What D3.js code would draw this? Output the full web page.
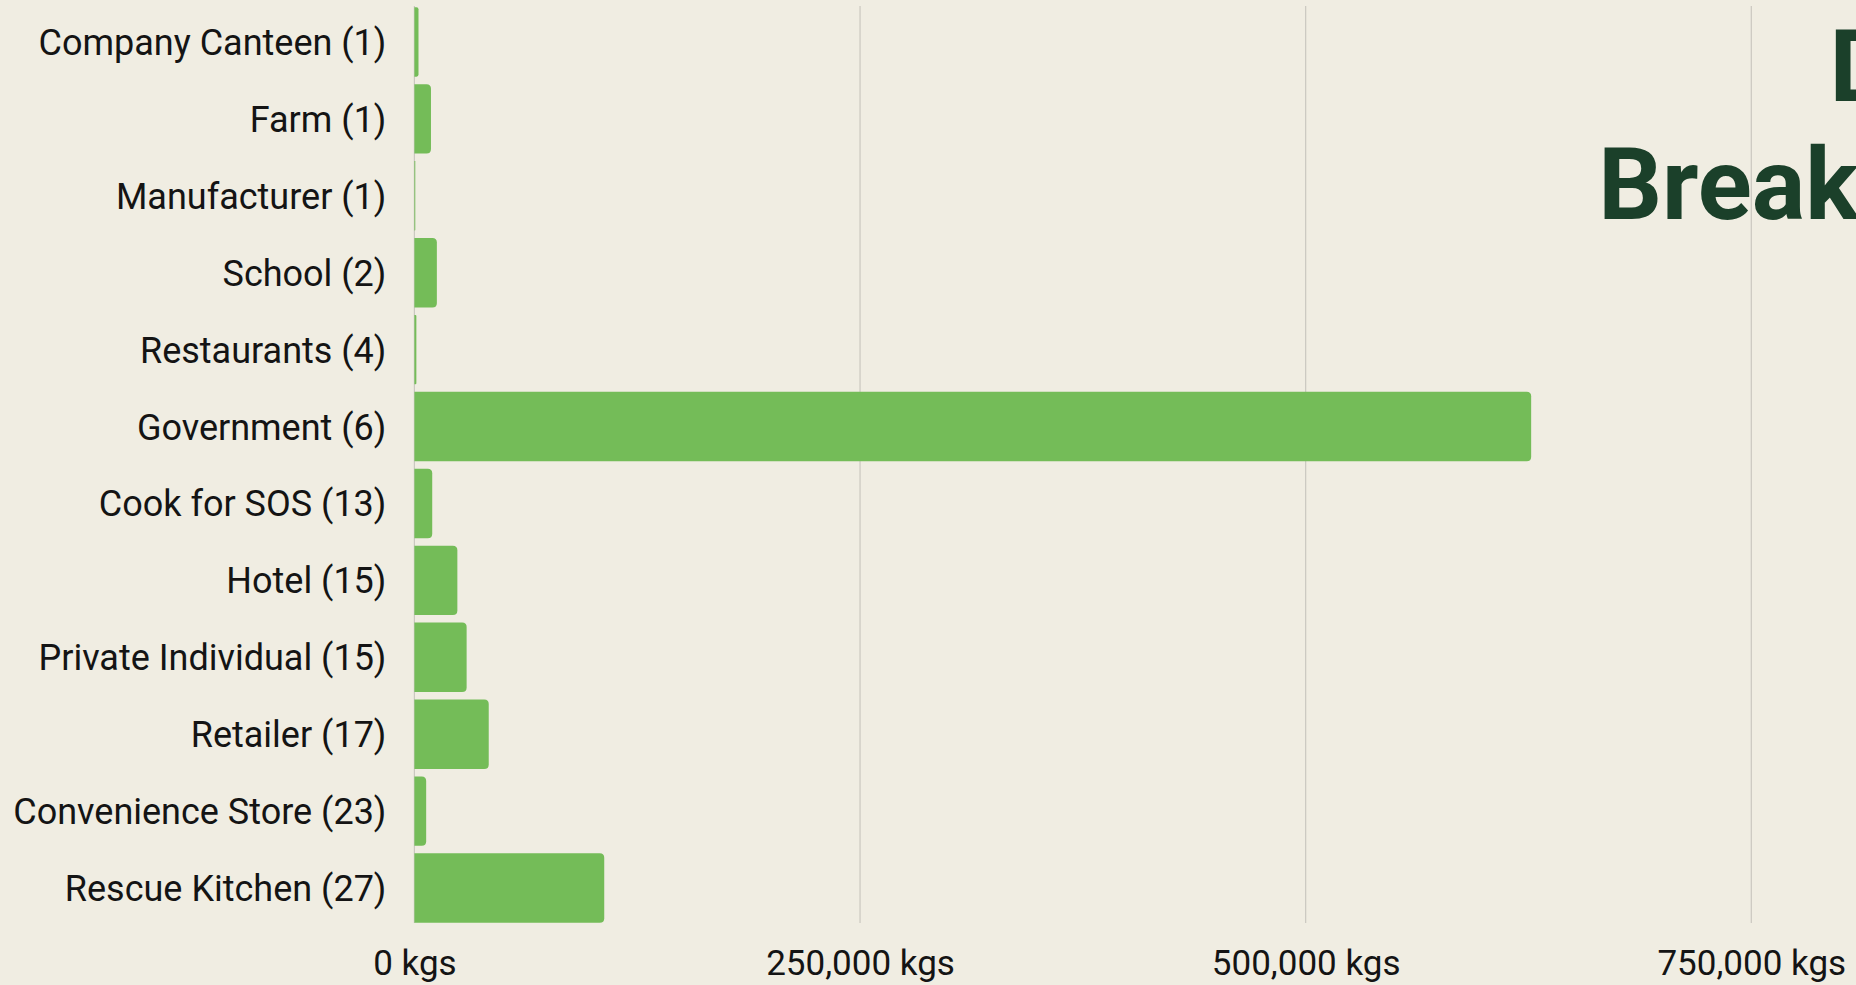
<!DOCTYPE html>
<html>
<head>
<meta charset="utf-8">
<script src="https://cdn.jsdelivr.net/npm/d3@7"></script>
<style>
  html, body { margin: 0; padding: 0; background: #f0ede2; overflow: hidden; }
  svg { display: block; }
</style>
</head>
<body>
<svg id="chart" width="1856" height="985"></svg>
<script>
// ---- Data ----
const donorTypes = ["Company Canteen", "Farm", "Manufacturer", "School", "Restaurants", "Government",
  "Cook for SOS", "Hotel", "Private Individual", "Retailer", "Convenience Store", "Rescue Kitchen"];
const donorCounts = [1, 1, 1, 2, 4, 6, 13, 15, 15, 17, 23, 27];
const kgsDonated = [2300, 9300, 500, 12600, 1100, 626500, 10000, 24100, 29300, 41700, 6600, 106500];
const tickValues = [0, 250000, 500000, 750000];
const titleLines = ["Donor", "Breakdown"];

const labels = donorTypes.map((d, i) => `${d} (${donorCounts[i]})`);
const data = labels.map((l, i) => ({ label: l, value: kgsDonated[i] }));

// ---- Layout ----
const W = 1856, H = 985;
const svg = d3.select("#chart");
svg.append("rect").attr("width", W).attr("height", H).attr("fill", "#f0ede2");

const x = d3.scaleLinear().domain([0, 750000]).range([414.4, 1751.3]);
const y = d3.scaleBand().domain(labels).range([3.5, 926.5]).paddingInner(0.098).paddingOuter(0.049);

const gridTop = 6, gridBottom = 923;
const font = "Roboto, 'Noto Sans', sans-serif";

// gridlines
svg.append("g").selectAll("line").data(tickValues).join("line")
  .attr("x1", d => x(d)).attr("x2", d => x(d))
  .attr("y1", gridTop).attr("y2", gridBottom)
  .attr("stroke", "#cac8c0").attr("stroke-width", 1.2);

// title (right-aligned, runs off the right edge as in the reference)
const titleX = 2100;
const title = svg.append("text")
  .attr("x", titleX).attr("y", 101)
  .attr("text-anchor", "end")
  .attr("font-family", font).attr("font-weight", 700).attr("font-size", 100)
  .attr("fill", "#1b402a");
title.selectAll("tspan").data(titleLines).join("tspan")
  .attr("x", titleX).attr("dy", (d, i) => i === 0 ? 0 : 118).text(d => d);

// bars: square at the axis, rounded at the end
function barPath(x0, y0, w, h, r) {
  r = Math.min(r, w / 2, h / 2);
  return `M${x0},${y0}H${x0 + w - r}Q${x0 + w},${y0} ${x0 + w},${y0 + r}` +
         `V${y0 + h - r}Q${x0 + w},${y0 + h} ${x0 + w - r},${y0 + h}H${x0}Z`;
}
svg.append("g").selectAll("path").data(data).join("path")
  .attr("d", d => barPath(x(0), y(d.label), Math.max(0.8, x(d.value) - x(0)), y.bandwidth(), 4.5))
  .attr("fill", "#74bc58");

// y axis labels
const yAxis = svg.append("g").attr("transform", `translate(${x(0)},1.5)`)
  .call(d3.axisLeft(y).tickSize(0).tickPadding(28));
yAxis.select(".domain").remove();
yAxis.selectAll("text")
  .attr("font-family", font).attr("font-size", 36).attr("fill", "#141414");

// x axis labels
const xAxis = svg.append("g").attr("transform", `translate(0,${gridBottom})`)
  .call(d3.axisBottom(x).tickValues(tickValues).tickSize(0).tickPadding(27)
    .tickFormat(d => d3.format(",")(d) + " kgs"));
xAxis.select(".domain").remove();
xAxis.selectAll("text")
  .attr("font-family", font).attr("font-size", 35).attr("fill", "#141414");
</script>
</body>
</html>
